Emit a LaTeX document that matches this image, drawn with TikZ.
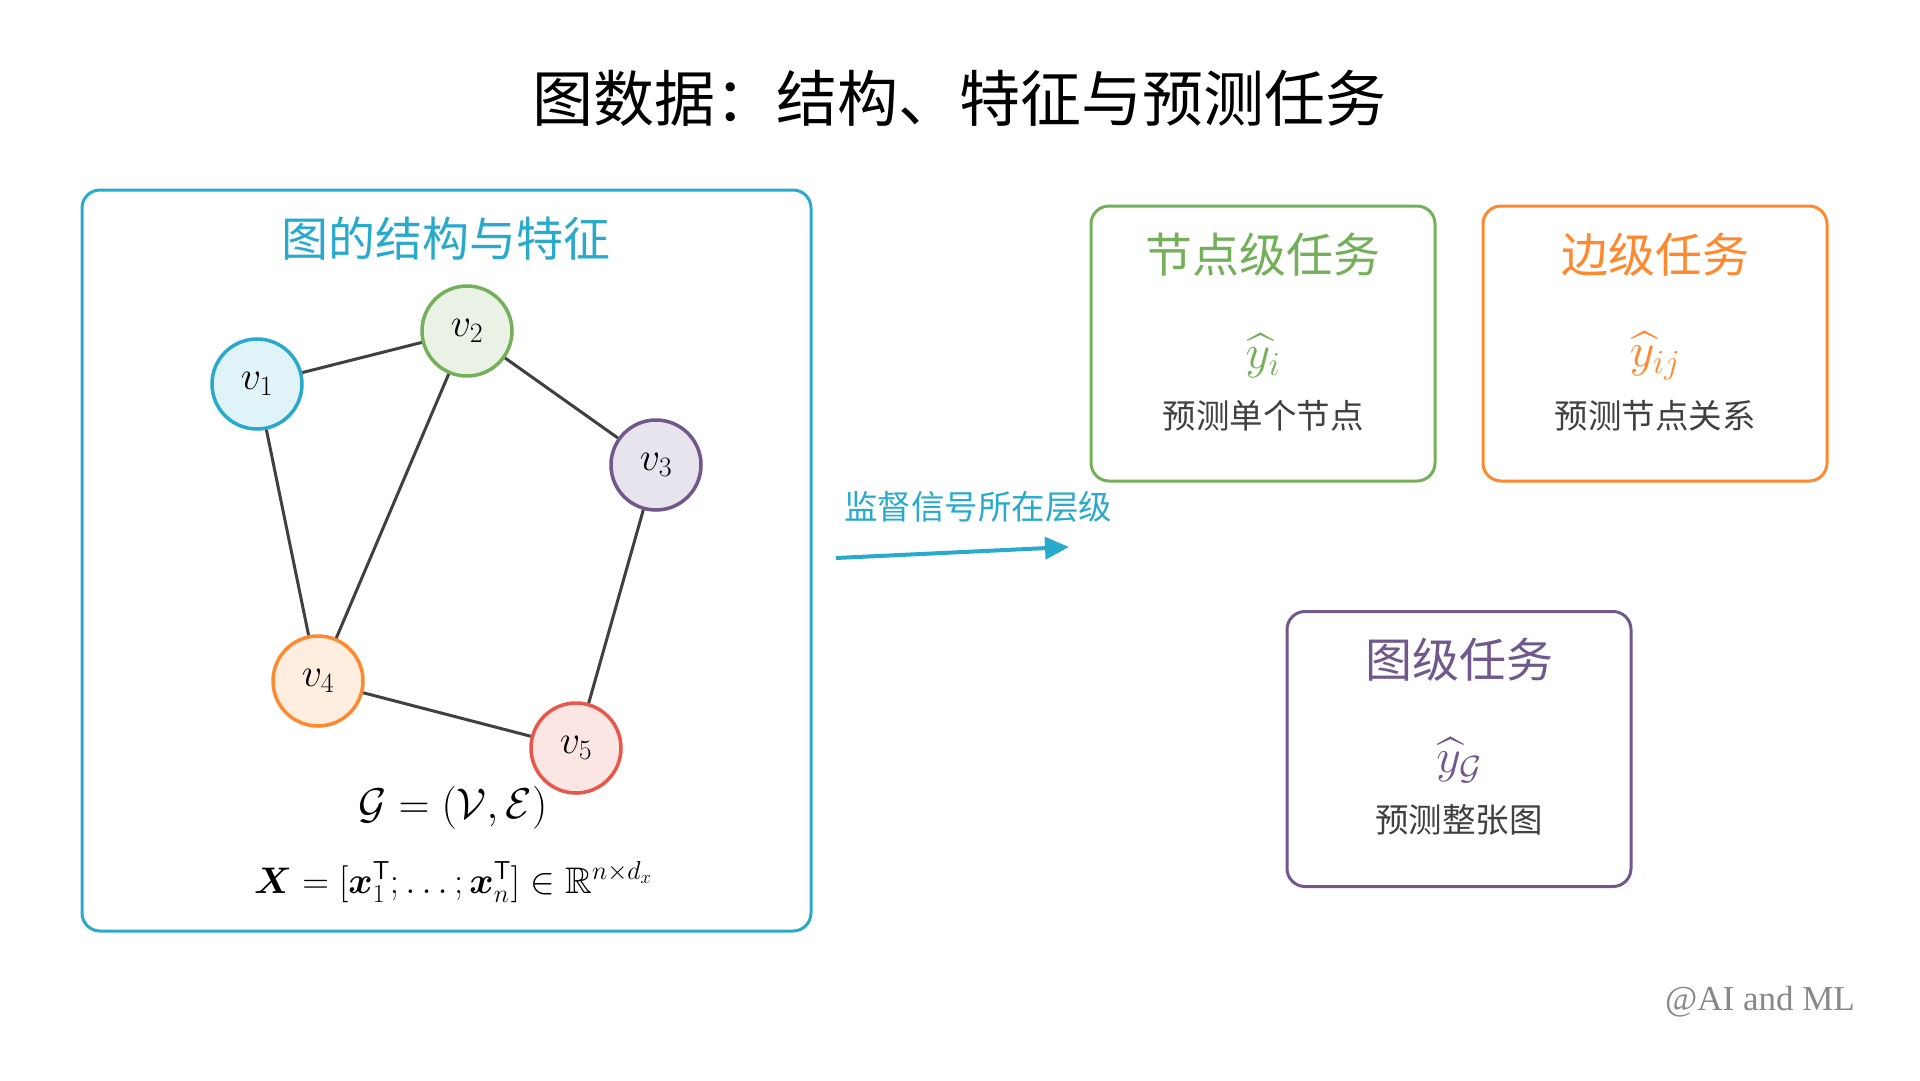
\RequirePackage{fix-cm}
\documentclass[tikz,border=0pt]{standalone}
\usepackage{amsmath,amssymb,bm}
\usepackage{fontspec}
\newfontfamily\cjk{Noto Sans CJK SC}
\newfontfamily\wmfont{Liberation Serif}
\usetikzlibrary{arrows.meta}
\definecolor{cblue}{RGB}{41,170,204}
\definecolor{cbluef}{RGB}{224,243,248}
\definecolor{cgreen}{RGB}{116,176,90}
\definecolor{cgreenf}{RGB}{234,242,230}
\definecolor{cpurple}{RGB}{112,88,140}
\definecolor{cpurplef}{RGB}{232,228,238}
\definecolor{corange}{RGB}{255,137,46}
\definecolor{corangef}{RGB}{255,238,224}
\definecolor{cred}{RGB}{232,87,74}
\definecolor{credf}{RGB}{251,230,228}
\definecolor{cedge}{RGB}{64,64,64}
\definecolor{cdesc}{RGB}{64,64,64}
\definecolor{cwm}{RGB}{136,136,136}
\tikzset{
  gnode/.style={circle, draw, line width=3.5pt, minimum size=90pt, inner sep=0pt, font=\fontsize{40}{46}\selectfont},
  gedge/.style={draw=cedge, line width=3pt},
  taskbox/.style={draw, rounded corners=18pt, line width=3pt, minimum width=344pt, minimum height=275pt, inner sep=0pt},
  boxtitle/.style={inner sep=1pt, font=\cjk\fontsize{47}{52}\selectfont},
  hatmath/.style={inner sep=1pt, font=\fontsize{48}{54}\selectfont},
  desc/.style={inner sep=1pt, text=cdesc, font=\cjk\fontsize{33.5}{38}\selectfont},
}
\begin{document}
\begin{tikzpicture}[x=1pt,y=-1pt]
\useasboundingbox (0,0) rectangle (1920,1080);
\fill[white] (0,0) rectangle (1920,1080);

% main title
\node[font=\cjk\fontsize{61}{70}\selectfont] (title) at (959,98) {图数据：结构、特征与预测任务};

% left box
\node[draw=cblue, rounded corners=18pt, line width=3pt, minimum width=729pt, minimum height=741pt, inner sep=0pt] (leftbox) at (446.5,560.5) {};
\node[text=cblue, font=\cjk\fontsize{47}{52}\selectfont] (lefttitle) at (446,239) {图的结构与特征};

\node[gnode, draw=cblue, fill=cbluef] (v1) at (257,384) {$v_1$};
\node[gnode, draw=cgreen, fill=cgreenf] (v2) at (467,331) {$v_2$};
\node[gnode, draw=cpurple, fill=cpurplef] (v3) at (656,465) {$v_3$};
\node[gnode, draw=corange, fill=corangef] (v4) at (318,681) {$v_4$};
\node[gnode, draw=cred, fill=credf] (v5) at (576,748) {$v_5$};

\draw[gedge] (v1) -- (v2);
\draw[gedge] (v2) -- (v3);
\draw[gedge] (v1) -- (v4);
\draw[gedge] (v2) -- (v4);
\draw[gedge] (v3) -- (v5);
\draw[gedge] (v4) -- (v5);

\node[inner sep=1pt, font=\fontsize{43}{50}\selectfont] (gdef) at (453,808) {$\mathcal{G}=(\mathcal{V},\mathcal{E})$};
\node[inner sep=1pt, font=\fontsize{37}{42}\selectfont] (xdef) at (453,882) {$\bm{X}=[\bm{x}_1^{\mathsf{T}};\ldots;\bm{x}_n^{\mathsf{T}}]\in\mathbb{R}^{n\times d_x}$};

% arrow
\coordinate (as) at (836,558);
\coordinate (ae) at (1069,547);
\draw[cblue, line width=4pt, -{Triangle[length=24pt,width=22pt]}] (as) -- (ae);
\node[text=cblue, font=\cjk\fontsize{33.5}{38}\selectfont] (alabel) at (978,507) {监督信号所在层级};

% node-level task
\node[taskbox, draw=cgreen] (nodebox) at (1263,343.5) {};
\node[boxtitle, text=cgreen] (nodetitle) at (1263,255) {节点级任务};
\node[hatmath, text=cgreen] (nodehat) at (1263,356) {$\widehat{y}_i$};
\node[desc] (nodedesc) at (1263,416) {预测单个节点};

% edge-level task
\node[taskbox, draw=corange] (edgebox) at (1655,343.5) {};
\node[boxtitle, text=corange] (edgetitle) at (1655,255) {边级任务};
\node[hatmath, text=corange] (edgehat) at (1655,356) {$\widehat{y}_{ij}$};
\node[desc] (edgedesc) at (1655,416) {预测节点关系};

% graph-level task
\node[taskbox, draw=cpurple] (graphbox) at (1459,749) {};
\node[boxtitle, text=cpurple] (graphtitle) at (1459,660) {图级任务};
\node[hatmath, text=cpurple] (graphhat) at (1459,760) {$\widehat{y}_{\mathcal{G}}$};
\node[desc] (graphdesc) at (1459,820) {预测整张图};

% watermark
\node[text=cwm, font=\wmfont\fontsize{35}{40}\selectfont] (wm) at (1760,1002) {@AI and ML};
\end{tikzpicture}
\end{document}
